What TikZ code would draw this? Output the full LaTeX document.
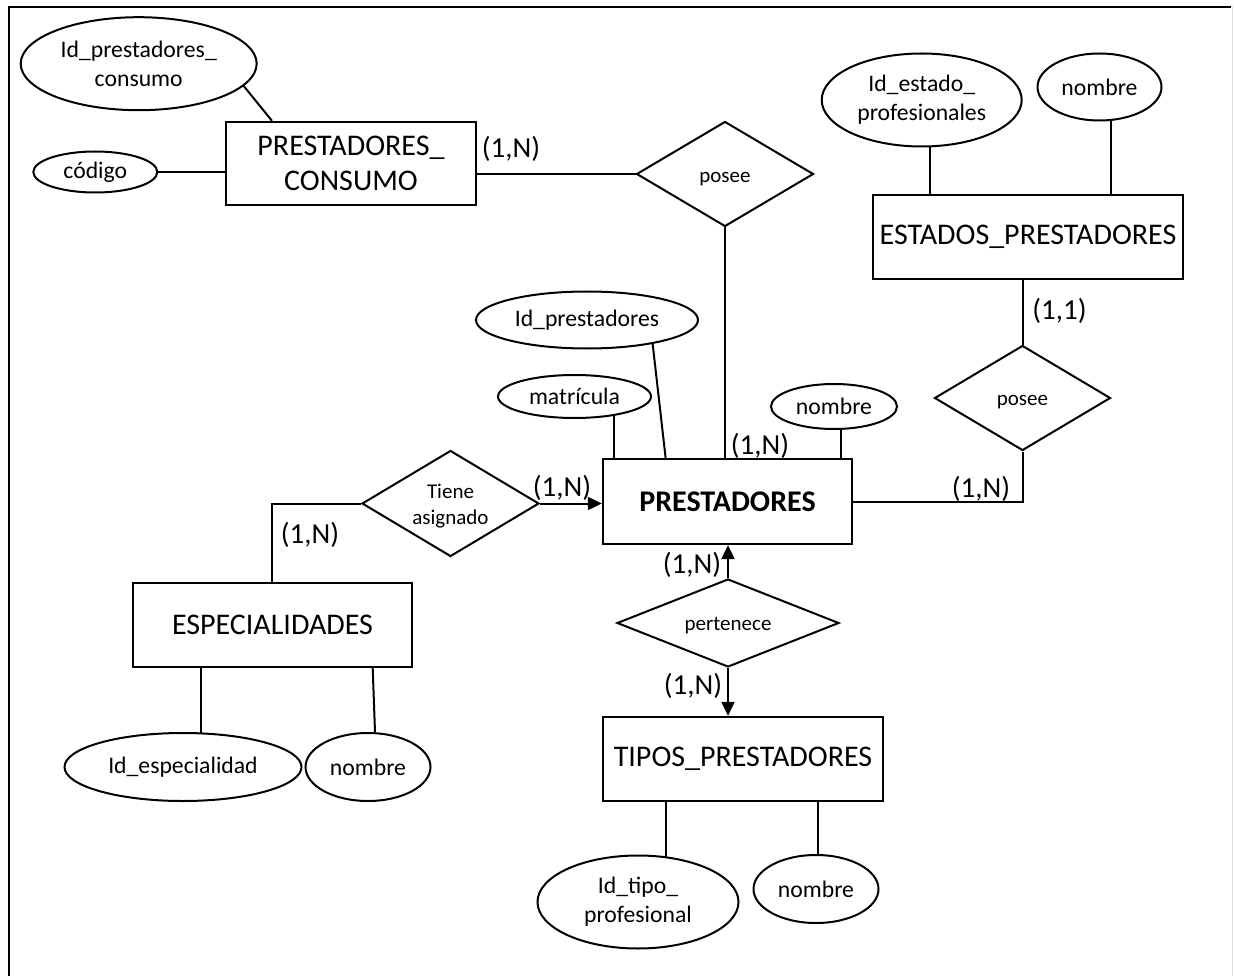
\documentclass[tikz,border=0pt]{standalone}
\usepackage{fontspec}
\setmainfont{Carlito}
\usetikzlibrary{shapes.geometric,arrows.meta,backgrounds}

\begin{document}
\begin{tikzpicture}[x=1pt,y=-1pt,
  erEntity/.style={draw, line width=2.3pt, fill=white, inner sep=0pt, align=center,
    font=\fontsize{30pt}{35pt}\selectfont},
  erAttr/.style={ellipse, draw, line width=2pt, fill=white, inner sep=0pt, align=center,
    font=\fontsize{23.7pt}{29pt}\selectfont},
  erRel/.style={diamond, draw, line width=2pt, fill=white, inner sep=0pt, align=center,
    font=\fontsize{21pt}{26pt}\selectfont},
  erLink/.style={line width=2pt},
  erCard/.style={inner sep=0pt, font=\fontsize{29pt}{34pt}\selectfont},
  toArrow/.style={-{Triangle[length=14pt,width=13pt]}}
]
\useasboundingbox (0,0) rectangle (1234,976);

% frame
\draw[line width=2pt] (9,976) -- (9,7) -- (1231,7);
\draw[line width=1pt, black!15] (1232.5,7) -- (1232.5,976);

% entities
\node[erEntity, minimum width=250pt, minimum height=83pt] (pc) at (351,163.5) {PRESTADORES\_\\CONSUMO};
\node[erEntity, minimum width=310pt, minimum height=84pt] (est) at (1028,237) {ESTADOS\_PRESTADORES};
\node[erEntity, minimum width=249pt, minimum height=85pt,
  font=\fontsize{30pt}{35pt}\selectfont\bfseries] (pres) at (727.5,501.5) {PRESTADORES};
\node[erEntity, minimum width=279pt, minimum height=84pt] (esp) at (272.5,625) {ESPECIALIDADES};
\node[erEntity, minimum width=280pt, minimum height=84pt] (tip) at (743,759) {TIPOS\_PRESTADORES};

% attributes
\node[erAttr, minimum width=236pt, minimum height=93pt] (idpc) at (138.7,63.7) {Id\_prestadores\_\\consumo};
\node[erAttr, minimum width=124pt, minimum height=41pt] (cod) at (95.3,172) {código};
\node[erAttr, minimum width=200pt, minimum height=93pt] (ide) at (921.7,100) {Id\_estado\_\\profesionales};
\node[erAttr, minimum width=124pt, minimum height=67pt] (nest) at (1099.5,87) {nombre};
\node[erAttr, minimum width=222pt, minimum height=57pt] (idp) at (587,320) {Id\_prestadores};
\node[erAttr, minimum width=153pt, minimum height=43pt] (mat) at (574.5,396.5) {matrícula};
\node[erAttr, minimum width=126pt, minimum height=45pt] (npres) at (834,406.5) {nombre};
\node[erAttr, minimum width=237pt, minimum height=68pt] (idesp) at (183,767) {Id\_especialidad};
\node[erAttr, minimum width=125pt, minimum height=68pt] (nesp) at (368,767) {nombre};
\node[erAttr, minimum width=201pt, minimum height=93pt] (idtip) at (638,902) {Id\_tipo\_\\profesional};
\node[erAttr, minimum width=125pt, minimum height=68pt] (ntip) at (816,889) {nombre};

% relationships (shapes first, their labels set a little low as in the layout)
\node[erRel, aspect=1.68, minimum width=177pt, minimum height=105pt] (pos1) at (725,174) {};
\node[erRel, aspect=1.68, minimum width=176pt, minimum height=105pt] (pos2) at (1022.5,398) {};
\node[erRel, aspect=1.67, minimum width=177pt, minimum height=106pt] (tiene) at (450.5,503.5) {};
\node[erRel, aspect=2.52, minimum width=222pt, minimum height=88pt] (pert) at (728,623) {};
\begin{scope}[every node/.style={inner sep=0pt, align=center, font=\fontsize{21pt}{26pt}\selectfont}]
\node (pos1t) at ([yshift=-5pt]pos1.center) {posee};
\node (pos2t) at ([yshift=-4pt]pos2.center) {posee};
\node (tienet) at ([yshift=-3pt]tiene.center) {Tiene\\asignado};
\node (pertt) at ([yshift=-3pt]pert.center) {pertenece};
\end{scope}

% connectors, kept under the shapes
\begin{scope}[on background layer]
\draw[erLink] (idpc.-12) -- (pc.north -| 272,0);
\draw[erLink] (cod.east) -- (cod.east -| pc.west);
\draw[erLink] (pc.east |- pos1.west) -- (pos1.west);
\draw[erLink] (pos1.south) -- (pos1.south |- pres.north);
\draw[erLink] (est.north -| 930,0) -- (ide.center -| 930,0);
\draw[erLink] (est.north -| 1110.7,0) -- (nest.center -| 1110.7,0);
\draw[erLink] (pos2.north |- est.south) -- (pos2.north);
\draw[erLink] (pos2.south) -- (pos2.south |- pres.east) -- (pres.east);
\draw[erLink] (pres.north -| 665.6,0) -- (idp.-20);
\draw[erLink] (pres.north -| 614,0) -- (mat.center -| 614,0);
\draw[erLink] (pres.north -| 840.5,0) -- (npres.center -| 840.5,0);
\draw[erLink, toArrow] (tiene.east) -- (tiene.east -| pres.west);
\draw[erLink] (tiene.west) -- (tiene.west -| 271.7,0) -- (esp.north -| 271.7,0);
\draw[erLink] (esp.south -| 200.7,0) -- (idesp.center -| 200.7,0);
\draw[erLink] (esp.south -| 372.7,0) -- (nesp.north -| 375,0);
\draw[erLink, toArrow] (pert.north) -- (pert.north |- pres.south);
\draw[erLink, toArrow] (pert.south) -- (pert.south |- tip.north);
\draw[erLink] (tip.south -| 665.7,0) -- (idtip.center -| 665.7,0);
\draw[erLink] (tip.south -| 817.7,0) -- (ntip.center -| 817.7,0);
\end{scope}

% cardinalities
\node[erCard] (c1) at (511,149) {(1,N)};
\node[erCard] (c2) at (760,446) {(1,N)};
\node[erCard] (c3) at (1059.5,311) {(1,1)};
\node[erCard] (c4) at (981,489) {(1,N)};
\node[erCard] (c5) at (562,488) {(1,N)};
\node[erCard] (c6) at (310,535) {(1,N)};
\node[erCard] (c7) at (692,565) {(1,N)};
\node[erCard] (c8) at (693,686) {(1,N)};
\end{tikzpicture}
\end{document}
